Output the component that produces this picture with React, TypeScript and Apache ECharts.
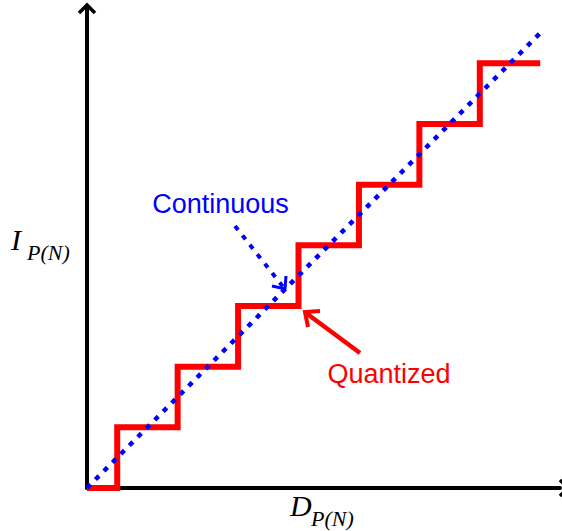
import React, { useEffect, useRef } from "react";
import * as echarts from "echarts";

// Quantized staircase: x positions where level changes, and level values
const stepX = [0, 0.5, 1.5, 2.5, 3.5, 4.5, 5.5, 6.5, 7.5];
const stepLevels = [0, 1, 2, 3, 4, 5, 6, 7, 7];
// Continuous (ideal) line
const contX = [0, 7.5];
const contY = [0, 7.5];
const labels = { continuous: "Continuous", quantized: "Quantized" };

export default function App() {
  const ref = useRef<HTMLDivElement>(null);
  useEffect(() => {
    if (!ref.current) return;
    const chart = echarts.init(ref.current, null, { renderer: "svg" });
    const sans = "'Liberation Sans', Arial, sans-serif";
    const serif = "'Liberation Serif', 'DejaVu Serif', serif";
    chart.setOption({
      animation: false,
      backgroundColor: "#ffffff",
      grid: { left: 87, right: 2, top: 6, bottom: 43 },
      xAxis: {
        type: "value",
        min: 0,
        max: 7.827,
        axisLine: { show: true, lineStyle: { color: "#000", width: 4 } },
        axisTick: { show: false },
        axisLabel: { show: false },
        splitLine: { show: false },
      },
      yAxis: {
        type: "value",
        min: 0,
        max: 7.945,
        axisLine: { show: true, lineStyle: { color: "#000", width: 4 } },
        axisTick: { show: false },
        axisLabel: { show: false },
        splitLine: { show: false },
      },
      series: [
        {
          type: "line",
          step: "end",
          data: stepX.map((x, i) => [x, stepLevels[i]]),
          symbol: "none",
          lineStyle: { color: "#ff0000", width: 6, join: "miter", cap: "butt" },
          z: 3,
        },
        {
          type: "line",
          data: contX.map((x, i) => [x, contY[i]]),
          symbol: "none",
          lineStyle: { color: "#0000ff", width: 4.5, type: [5, 7], cap: "butt" },
          z: 4,
        },
      ],
      graphic: [
        // axis arrowheads
        { type: "polyline", shape: { points: [[79, 13], [87, 5], [95, 13]] }, style: { stroke: "#000", lineWidth: 3.5, fill: null } },
        { type: "polyline", shape: { points: [[560, 480], [568, 488], [560, 496]] }, style: { stroke: "#000", lineWidth: 3.5, fill: null } },
        // Continuous annotation
        { type: "text", x: 220.5, y: 204, style: { text: labels.continuous, fill: "#0000ff", font: `27px ${sans}`, align: "center", verticalAlign: "middle" } },
        { type: "line", shape: { x1: 235, y1: 226, x2: 284, y2: 288 }, style: { stroke: "#0000ff", lineWidth: 4, lineDash: [5, 7] } },
        { type: "polyline", shape: { points: [[286, 276], [285, 289], [272, 286]] }, style: { stroke: "#0000ff", lineWidth: 3, fill: null } },
        // Quantized annotation
        { type: "text", x: 389, y: 374, style: { text: labels.quantized, fill: "#ff0000", font: `27px ${sans}`, align: "center", verticalAlign: "middle" } },
        { type: "line", shape: { x1: 360, y1: 353, x2: 306, y2: 313 }, style: { stroke: "#ff0000", lineWidth: 4.5 } },
        { type: "polyline", shape: { points: [[308, 327], [305, 312], [320, 311]] }, style: { stroke: "#ff0000", lineWidth: 4, fill: null } },
        // axis labels
        { type: "text", x: 11, y: 239, style: { text: "I", fill: "#000", font: `italic 30px ${serif}`, align: "left", verticalAlign: "middle" } },
        { type: "text", x: 27, y: 252, style: { text: "P(N)", fill: "#000", font: `italic 22px ${serif}`, align: "left", verticalAlign: "middle" } },
        { type: "text", x: 290, y: 505, style: { text: "D", fill: "#000", font: `italic 30px ${serif}`, align: "left", verticalAlign: "middle" } },
        { type: "text", x: 311, y: 518, style: { text: "P(N)", fill: "#000", font: `italic 22px ${serif}`, align: "left", verticalAlign: "middle" } },
      ],
    });
    return () => chart.dispose();
  }, []);
  return (
    <div
      ref={ref}
      style={{ position: "fixed", left: 0, top: 0, width: 562, height: 531, background: "#fff" }}
    />
  );
}
